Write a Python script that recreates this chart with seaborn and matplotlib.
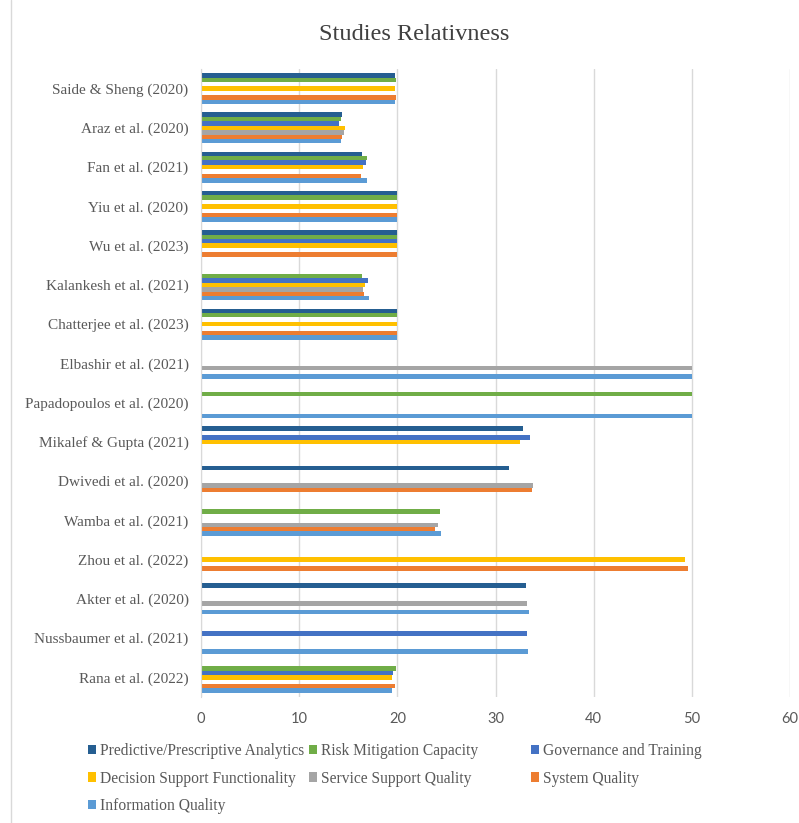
import seaborn as sns
import matplotlib.pyplot as plt
import pandas as pd
from matplotlib.patches import Patch
from matplotlib.lines import Line2D

# studies (top to bottom) and the score of each dimension
studies = ["Saide & Sheng (2020)", "Araz et al. (2020)", "Fan et al. (2021)",
           "Yiu et al. (2020)", "Wu et al. (2023)", "Kalankesh et al. (2021)",
           "Chatterjee et al. (2023)", "Elbashir et al. (2021)",
           "Papadopoulos et al. (2020)", "Mikalef & Gupta (2021)",
           "Dwivedi et al. (2020)", "Wamba et al. (2021)", "Zhou et al. (2022)",
           "Akter et al. (2020)", "Nussbaumer et al. (2021)", "Rana et al. (2022)"]

predictive = [19.8, 14.4, 16.4, 20, 20, 0, 20, 0, 0, 32.8, 31.4, 0, 0, 33.1, 0, 0]
risk = [19.9, 14.3, 16.9, 20, 20, 16.4, 20, 0, 50, 0, 0, 24.3, 0, 0, 0, 19.9]
governance = [0, 14.1, 16.8, 0, 20, 17.0, 0, 0, 0, 33.5, 0, 0, 0, 0, 33.2, 19.6]
decision = [19.8, 14.7, 16.5, 20, 20, 16.7, 20, 0, 0, 32.5, 0, 0, 49.3, 0, 0, 19.5]
service = [0, 14.6, 0, 0, 0, 16.5, 0, 50, 0, 0, 33.8, 24.1, 0, 33.2, 0, 0]
system = [19.9, 14.4, 16.3, 20, 20, 16.6, 20, 0, 0, 0, 33.7, 23.8, 49.6, 0, 0, 19.75]
information = [19.8, 14.25, 16.9, 20, 0, 17.1, 20, 50, 50, 0, 0, 24.4, 0, 33.4, 33.3, 19.5]

series = ["Predictive/Prescriptive Analytics", "Risk Mitigation Capacity",
          "Governance and Training", "Decision Support Functionality",
          "Service Support Quality", "System Quality", "Information Quality"]
colors = ["#255E91", "#70AD47", "#4472C4", "#FFC000", "#A5A5A5", "#ED7D31", "#5B9BD5"]

values = [predictive, risk, governance, decision, service, system, information]
rows = []
for name, vals in zip(series, values):
    for s, v in zip(studies, vals):
        rows.append({"study": s, "metric": name, "value": v})
df = pd.DataFrame(rows)

sns.set_style("white")
plt.rcParams['font.family'] = ['Liberation Serif', 'DejaVu Serif']

fig = plt.figure(figsize=(7.99, 8.23), dpi=100)
ax = fig.add_axes([201 / 799, 1 - 697 / 823, 589 / 799, 628 / 823])

sns.barplot(data=df, x="value", y="study", hue="metric", hue_order=series,
            order=studies, palette=colors, saturation=1, orient="h", width=0.79,
            linewidth=0, legend=False, ax=ax)

ax.set_xlim(0, 60)
ax.set_xticks(range(0, 61, 10))
ax.set_xlabel("")
ax.set_ylabel("")
ax.grid(axis="x", color="#D9D9D9", linewidth=1)
ax.set_axisbelow(True)
for side in ["top", "right", "bottom"]:
    ax.spines[side].set_visible(False)
ax.spines["left"].set_color("#D9D9D9")
ax.tick_params(axis="both", length=0)
ax.tick_params(axis="y", pad=9, labelsize=11, labelcolor="#595959")
ax.tick_params(axis="x", pad=11, labelcolor="#595959")
for lab in ax.get_xticklabels():
    lab.set_fontfamily("Lato")
    lab.set_fontsize(10.5)

fig.text(0.518, 1 - 34 / 823, "Studies Relativness", ha="center", va="center",
         fontsize=17.5, color="#404040")

# legend laid out like Excel: row-major, equal column widths
col_x = [88 / 799, 309 / 799, 531 / 799]
cols = [[0, 3, 6], [1, 4], [2, 5]]
for cx, idx in zip(col_x, cols):
    handles = [Patch(facecolor=colors[i], edgecolor="none", label=series[i]) for i in idx]
    fig.legend(handles=handles, loc="upper left", bbox_to_anchor=(cx, 1 - 743 / 823),
               frameon=False, fontsize=11.2, labelcolor="#595959", handlelength=0.5,
               handleheight=0.55, handletextpad=0.25, labelspacing=0.74,
               borderpad=0, borderaxespad=0)

# chart area border on the left
fig.add_artist(Line2D([11 / 799, 11 / 799], [0, 1], transform=fig.transFigure,
                      color="#D9D9D9", linewidth=1))

fig.savefig("out.png", dpi=100)
